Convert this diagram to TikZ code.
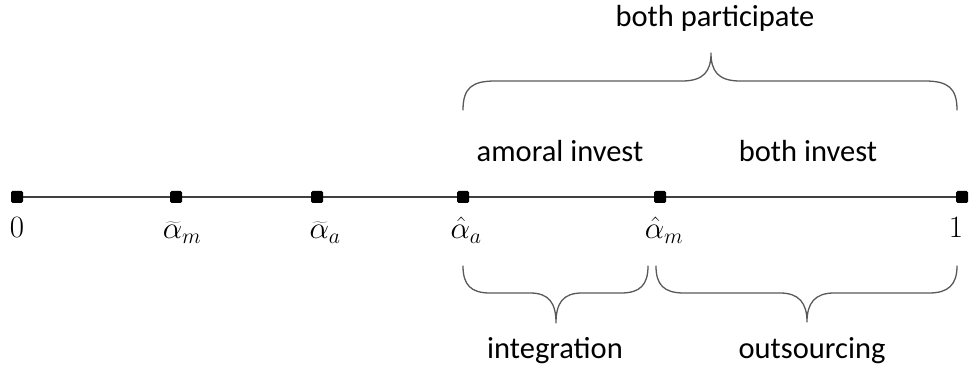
\RequirePackage{fix-cm}
\documentclass[tikz,border=0pt]{standalone}
\usepackage{fontspec}
\setmainfont{Carlito}
\begin{document}
\begin{tikzpicture}[x=1pt,y=-1pt,
  marker/.style={rectangle,fill=black,minimum size=12pt,inner sep=0pt,rounded corners=1.5pt},
  axisline/.style={line width=1.3pt,draw=black!75},
  bracepath/.style={line width=1.3pt,draw=black!65,line cap=round,line join=round},
  lbl/.style={anchor=base,inner sep=0pt,font=\fontsize{30.5}{36}\selectfont},
  mlbl/.style={anchor=base,inner sep=0pt,font=\fontsize{31}{37}\selectfont}]
\useasboundingbox (0,0) rectangle (969,371);
% axis
\coordinate (L) at (17,197);
\coordinate (R) at (962,197);
\draw[axisline] (L) -- (R);
\node[marker] (p0) at (17,197) {};
\node[marker] (pm) at (176,197) {};
\node[marker] (pa) at (317,197) {};
\node[marker] (ha) at (463,197) {};
\node[marker] (hm) at (660,197) {};
\node[marker] (p1) at (962,197) {};
% axis labels
\node[mlbl] (l0) at (17,238) {$0$};
\node[mlbl] (ltm) at (182,239) {$\widetilde{\alpha}_m$};
\node[mlbl] (lta) at (325,239) {$\widetilde{\alpha}_a$};
\node[mlbl] (lha) at (466,239) {$\hat{\alpha}_a$};
\node[mlbl] (lhm) at (664,239) {$\hat{\alpha}_m$};
\node[mlbl] (l1) at (956,238) {$1$};
% top brace
\draw[bracepath] (463,110) .. controls (463,88) and (472,81) .. (495,81) -- (682,81)
  .. controls (704,81) and (711,71) .. (711,53)
  .. controls (711,71) and (718,81) .. (740,81) -- (925,81)
  .. controls (948,81) and (957,88) .. (957,110);
% bottom braces
\draw[bracepath] (463,266) .. controls (463,285) and (471,293) .. (490,293) -- (530,293)
  .. controls (549,293) and (556,303) .. (556,323)
  .. controls (556,303) and (563,293) .. (582,293) -- (621,293)
  .. controls (640,293) and (648,285) .. (648,266);
\draw[bracepath] (656,266) .. controls (656,285) and (664,293) .. (684,293) -- (780,293)
  .. controls (799,293) and (807,303) .. (807,322)
  .. controls (807,303) and (815,293) .. (834,293) -- (929,293)
  .. controls (948,293) and (957,285) .. (957,266);
% texts
\node[lbl] (tboth) at (715,27) {both participate};
\node[lbl] (tamoral) at (560,162) {amoral invest};
\node[lbl] (tbinv) at (808,162) {both invest};
\node[lbl] (tint) at (555,358) {integration};
\node[lbl] (tout) at (812,358) {outsourcing};
\end{tikzpicture}
\end{document}
